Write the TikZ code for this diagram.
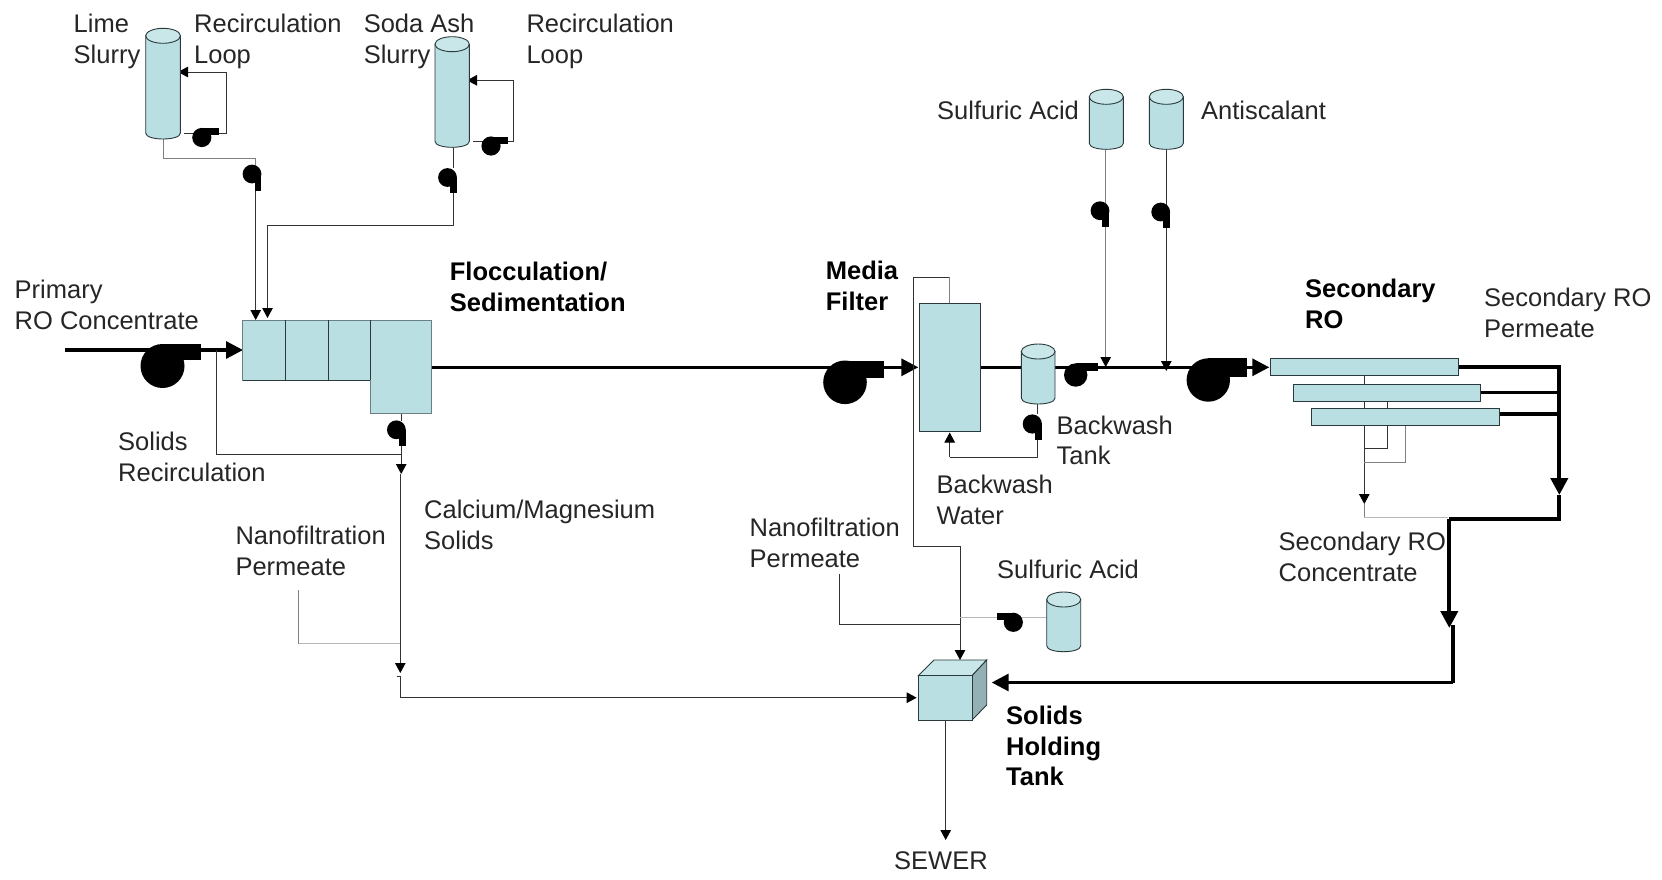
\documentclass[tikz,border=0pt]{standalone}
\usepackage{fontspec}
\setmainfont{Liberation Sans}
\usetikzlibrary{arrows.meta,fit}
\definecolor{teal1}{HTML}{B9DFE2}
\definecolor{teal2}{HTML}{C9E6E8}
\definecolor{teal3}{HTML}{93B1B4}
\definecolor{edge}{HTML}{2A3A3C}
\definecolor{pipe}{HTML}{333333}
\definecolor{pipegray}{HTML}{808080}
\definecolor{pipelight}{HTML}{B8B8B8}
\tikzset{
  lbl/.style={anchor=north west,inner sep=0pt,align=left,font=\fontsize{25.5}{30.8}\selectfont,text=black!85},
  blbl/.style={lbl,font=\fontsize{25.5}{30.8}\selectfont\bfseries,text=black},
  vessel/.style={draw=edge,fill=teal1,line width=0.9pt,inner sep=0pt},
  anchorbox/.style={inner sep=0pt},
  thin pipe/.style={draw=pipe,line width=1pt},
  gray pipe/.style={draw=pipegray,line width=1pt},
  light pipe/.style={draw=pipelight,line width=1.2pt},
  thick pipe/.style={draw=black,line width=3.2pt},
  heavy pipe/.style={draw=black,line width=4pt},
  smallhead/.style={-{Triangle[length=10pt,width=10.5pt,color=black]}},
  bighead/.style={-{Triangle[length=17pt,width=17pt,color=black]}},
}
% tank: name, x1, x2, top, bottom
\newcommand{\tank}[5]{%
  \draw[draw=edge,fill=teal1,line width=0.9pt] (#2,#4+7.5) -- (#3,#4+7.5) -- (#3,#5-6)
    .. controls (#3,#5-2) and ({#2+(#3-#2)*0.75},#5) .. ({(#2+#3)/2},#5)
    .. controls ({#2+(#3-#2)*0.25},#5) and (#2,#5-2) .. (#2,#5-6) -- cycle;
  \draw[draw=edge,fill=teal2,line width=0.9pt] ({(#2+#3)/2},#4+7.5) ellipse ({(#3-#2)/2} and 7.5);
  \node[anchorbox,fit={(#2,#4) (#3,#5)}] (#1) {};
}
% pumps: circle centre cx cy r, then outlet rectangle corners
\newcommand{\pump}[8]{%
  \node[circle,fill=black,inner sep=0pt,minimum size=#4*2pt] (#1) at (#2,#3) {};
  \fill[black] (#5,#6) rectangle (#7,#8);
}
\begin{document}
\begin{tikzpicture}[x=1pt,y=-1pt]
\useasboundingbox[fill=white] (0,0) rectangle (1662,879);

% ---- free ends and junctions
\coordinate (inStart) at (64.6,350);
\coordinate (limeC) at (226.4,72);
\coordinate (limeD) at (226.4,133.3);
\coordinate (limeL) at (184,133.3);
\coordinate (limeIn) at (178,72);
\coordinate (limeE) at (163,158.3);
\coordinate (limeF) at (255.7,158.3);
\coordinate (limeG) at (255.7,165);
\coordinate (limeH) at (255.7,190);
\coordinate (limeTip) at (255.7,320);
\coordinate (sodaIn) at (467,80.3);
\coordinate (sodaC) at (513.6,80.3);
\coordinate (sodaD) at (513.6,141.7);
\coordinate (sodaL) at (473,141.7);
\coordinate (sodaA) at (453.6,147);
\coordinate (sodaB) at (453.6,168.3);
\coordinate (sodaE) at (453.6,193);
\coordinate (sodaF) at (453.6,225.3);
\coordinate (sodaG) at (267.5,225.3);
\coordinate (sodaTip) at (267.5,318);
\coordinate (recA) at (216.8,350);
\coordinate (recB) at (216.8,454.3);
\coordinate (recC) at (401.2,454.3);
\coordinate (sA) at (401.2,413.7);
\coordinate (sB) at (401.2,421);
\coordinate (sC) at (401.2,445);
\coordinate (sD) at (401.2,474);
\coordinate (sE) at (400.3,474);
\coordinate (sF) at (400.3,673);
\coordinate (nfA) at (298,590);
\coordinate (nfB) at (298,643.7);
\coordinate (nfC) at (400.3,643.7);
\coordinate (bkA) at (396.7,676.7);
\coordinate (bkB) at (400,676.7);
\coordinate (bkC) at (400,697.7);
\coordinate (bkTip) at (916.7,697.7);
\coordinate (mainL) at (431,367.3);
\coordinate (mainM) at (918.3,367.3);
\coordinate (filtTop) at (949.3,303.3);
\coordinate (ftA) at (949.3,277.3);
\coordinate (ftB) at (913.7,277.3);
\coordinate (ftC) at (913.7,546);
\coordinate (ftD) at (960,546);
\coordinate (boxTip) at (960,660);
\coordinate (nf2A) at (839.3,574);
\coordinate (nf2B) at (839.3,624.3);
\coordinate (nf2C) at (960,624.3);
\coordinate (saJ) at (960,617.7);
\coordinate (saT) at (1047,617.7);
\coordinate (bwA) at (1037.7,404);
\coordinate (bwB) at (1037.7,414.3);
\coordinate (bwC) at (1037.7,440);
\coordinate (bwD) at (1037.7,457);
\coordinate (bwE) at (949.7,457);
\coordinate (bwTip) at (949.7,432.5);
\coordinate (mF) at (980,367.3);
\coordinate (mT1) at (1021.3,367.3);
\coordinate (mT2) at (1055,367.3);
\coordinate (mE) at (1269.3,367.3);
\coordinate (a1A) at (1105.7,149.3);
\coordinate (a1B) at (1105.7,205);
\coordinate (a1C) at (1105.7,226);
\coordinate (a1Tip) at (1105.7,367);
\coordinate (a2A) at (1166.3,149.3);
\coordinate (a2B) at (1166.3,205);
\coordinate (a2C) at (1166.3,228);
\coordinate (a2Tip) at (1166.3,371);
\coordinate (cA) at (1364.3,375.3);
\coordinate (cTip) at (1364.3,504);
\coordinate (cB) at (1364.3,517.7);
\coordinate (cC) at (1448.3,517.7);
\coordinate (c2A) at (1387.3,401.3);
\coordinate (c2B) at (1387.3,408.3);
\coordinate (c2C) at (1387.3,425.3);
\coordinate (c2D) at (1387.3,448.3);
\coordinate (c2E) at (1364.3,448.3);
\coordinate (c3A) at (1405.3,425.3);
\coordinate (c3B) at (1405.3,462.3);
\coordinate (c3C) at (1364.3,462.3);
\coordinate (pA) at (1458.3,367.3);
\coordinate (pB) at (1559.3,367.3);
\coordinate (pTip) at (1559.3,495);
\coordinate (pC) at (1559.3,519);
\coordinate (pD) at (1449.3,519);
\coordinate (pTip2) at (1449.3,628);
\coordinate (qA) at (1453,625);
\coordinate (qB) at (1453,682.5);
\coordinate (qTip) at (991.7,682.5);
\coordinate (r2A) at (1480.7,392.7);
\coordinate (r2B) at (1558,392.7);
\coordinate (r3A) at (1499.7,414);
\coordinate (r3B) at (1558,414);
\coordinate (hA) at (945.7,720);
\coordinate (hTip) at (945.7,840);

% ---- connectors
\draw[thick pipe,bighead] (inStart) -- (243,350);
\draw[thin pipe] (recA) -- (recB) -- (recC);
\draw[thin pipe,smallhead] (limeC) -- (limeIn);
\draw[thin pipe] (limeC) -- (limeD) -- (limeL);
\draw[gray pipe] (163,139) -- (limeE) -- (limeF) -- (limeG);
\draw[thin pipe,smallhead] (limeH) -- (limeTip);
\draw[thin pipe,smallhead] (sodaC) -- (sodaIn);
\draw[thin pipe] (sodaC) -- (sodaD) -- (sodaL);
\draw[thin pipe] (sodaA) -- (sodaB);
\draw[thin pipe] (sodaE) -- (sodaF) -- (sodaG);
\draw[thin pipe,smallhead] (sodaG) -- (sodaTip);
\draw[thin pipe] (sA) -- (sB);
\draw[thin pipe,smallhead] (sC) -- (sD);
\draw[thin pipe,smallhead] (sE) -- (sF);
\draw[light pipe] (nfB) -- (nfC);
\draw[gray pipe] (nfA) -- (nfB);
\draw[thin pipe,smallhead] (bkA) -- (bkB) -- (bkC) -- (bkTip);
\draw[thick pipe,bighead] (mainL) -- (mainM);
\draw[gray pipe] (filtTop) -- (ftA);
\draw[thin pipe] (ftA) -- (ftB) -- (ftC) -- (ftD);
\draw[thin pipe,smallhead] (ftD) -- (boxTip);
\draw[thin pipe] (nf2A) -- (nf2B) -- (nf2C);
\draw[light pipe] (saJ) -- (saT);
\draw[thin pipe] (bwA) -- (bwB);
\draw[thin pipe] (bwC) -- (bwD) -- (bwE);
\draw[thin pipe,smallhead] (bwE) -- (bwTip);
\draw[thick pipe] (mF) -- (mT1);
\draw[thick pipe,bighead] (mT2) -- (mE);
\draw[gray pipe] (a1A) -- (a1B);
\draw[gray pipe,smallhead] (a1C) -- (a1Tip);
\draw[thin pipe] (a2A) -- (a2B);
\draw[thin pipe,smallhead] (a2C) -- (a2Tip);
\draw[thin pipe,smallhead] (cA) -- (cTip);
\draw[gray pipe] (cTip) -- (cB);
\draw[light pipe] (cB) -- (cC);
\draw[thin pipe] (c2C) -- (c2D) -- (c2E);
\draw[thin pipe] (c2A) -- (c2B);
\draw[gray pipe] (c3A) -- (c3B) -- (c3C);
\draw[heavy pipe,bighead] (pA) -- (pB) -- (pTip);
\draw[heavy pipe] (pTip) -- (pC) -- (pD);
\draw[heavy pipe,bighead] (pD) -- (pTip2);
\draw[thick pipe,line cap=butt] (qA) -- (qB);
\draw[thick pipe,bighead] (qB) -- (qTip);
\draw[thick pipe] (r2A) -- (r2B);
\draw[thick pipe] (r3A) -- (r3B);
\draw[thin pipe,smallhead] (hA) -- (hTip);

% ---- tanks
\tank{limeTank}{145.7}{180.4}{28.3}{139}
\tank{sodaTank}{435}{469.3}{36.7}{147.3}
\tank{acidTank}{1089.3}{1123.3}{89.3}{149.3}
\tank{antiTank}{1149.3}{1183.3}{89.3}{149.3}
\tank{bwTank}{1021.3}{1055}{344}{404}
\tank{acid2Tank}{1046.7}{1080.7}{592}{651.7}

% ---- vessels
\node[vessel,draw=teal3!60!edge,fit={(242.9,320) (285,380)}] (floc1) {};
\node[vessel,draw=teal3!60!edge,fit={(285,320) (328,380)}] (floc2) {};
\node[vessel,draw=teal3!60!edge,fit={(328,320) (370.4,380)}] (floc3) {};
\node[vessel,draw=teal3!60!edge,fit={(370.4,320) (431,413.7)}] (floc4) {};
\draw[draw=edge,line width=0.9pt] (285,320) -- (285,380) (328,320) -- (328,380) (370.4,320) -- (370.4,380) (242.9,380) -- (370.4,380);
\node[vessel,fit={(919.3,303.3) (980,431.3)}] (filter) {};
\node[vessel,fit={(1270.3,358.3) (1458.3,375.3)}] (ro1) {};
\node[vessel,fit={(1293.3,384.3) (1480.7,401.3)}] (ro2) {};
\node[vessel,fit={(1311.3,408.3) (1499.7,425.3)}] (ro3) {};
% solids holding tank
\draw[draw=edge,fill=teal2,line width=0.9pt] (918.3,675.7) -- (934,660) -- (986.7,660) -- (972,675.7) -- cycle;
\draw[draw=edge,fill=teal3,line width=0.9pt] (972,675.7) -- (986.7,660) -- (986.7,705) -- (972,720) -- cycle;
\node[vessel,fit={(918.3,675.7) (972,720)}] (solidsTank) {};

% ---- pumps
\pump{pInlet}{162.5}{366}{22}{162.5}{344.3}{201}{360}
\pump{pLimeR}{201.8}{137.5}{9.6}{201.8}{128}{218.6}{135}
\pump{pLimeD}{252}{174}{9.4}{254.6}{174}{261.4}{191}
\pump{pSodaR}{491}{146}{9.6}{491}{136.5}{507.9}{143.7}
\pump{pSodaD}{447.5}{177.5}{9.4}{450}{177.5}{456.9}{193}
\pump{pFloc}{396.4}{429.8}{9.4}{399.3}{429.8}{405.8}{445.7}
\pump{pFilter}{845}{382.3}{21.8}{845}{360.5}{884}{378.3}
\pump{pBw}{1032.3}{424}{9.6}{1035}{424}{1041.9}{440}
\pump{pMid}{1075.7}{375}{11.7}{1075.7}{363.3}{1097.7}{371}
\pump{pRO}{1208.3}{380}{21.7}{1208.3}{358.3}{1247.3}{376.5}
\pump{pAcid}{1100}{210.7}{9.4}{1102.3}{210.7}{1109.4}{226.7}
\pump{pAnti}{1160.7}{212}{9.4}{1163.3}{212}{1170.1}{228.3}
\pump{pAcid2}{1013.3}{622.3}{9.6}{996.7}{612.7}{1013.3}{620}

% ---- labels
\node[lbl] (tLime) at (73.5,14) {Lime\\Slurry};
\node[lbl] (tRec1) at (194,14) {Recirculation\\Loop};
\node[lbl] (tSoda) at (363.6,14) {Soda Ash\\Slurry};
\node[lbl] (tRec2) at (526.3,14) {Recirculation\\Loop};
\node[lbl] (tPrim) at (14.5,280) {Primary\\RO Concentrate};
\node[blbl] (tFloc) at (449.7,261.7) {Flocculation/\\Sedimentation};
\node[lbl] (tSolR) at (118,431.7) {Solids\\Recirculation};
\node[lbl] (tCal) at (424,500) {Calcium/Magnesium\\Solids};
\node[lbl] (tNf1) at (235.3,525.7) {Nanofiltration\\Permeate};
\node[blbl] (tMedia) at (825.7,261) {Media\\Filter};
\node[lbl] (tAcid) at (937,100.6) {Sulfuric Acid};
\node[lbl] (tAnti) at (1201,100.6) {Antiscalant};
\node[blbl] (tSec) at (1305,278.7) {Secondary\\RO};
\node[lbl] (tPerm) at (1484,288) {Secondary RO\\Permeate};
\node[lbl] (tBwT) at (1056.5,415.5) {Backwash\\Tank};
\node[lbl] (tBwW) at (936.5,474.8) {Backwash\\Water};
\node[lbl] (tNf2) at (749.4,518) {Nanofiltration\\Permeate};
\node[lbl] (tAcid2) at (997,559.6) {Sulfuric Acid};
\node[lbl] (tConc) at (1278.5,531.7) {Secondary RO\\Concentrate};
\node[blbl] (tHold) at (1006,705.7) {Solids\\Holding\\Tank};
\node[lbl] (tSew) at (894,851) {SEWER};
\end{tikzpicture}
\end{document}
